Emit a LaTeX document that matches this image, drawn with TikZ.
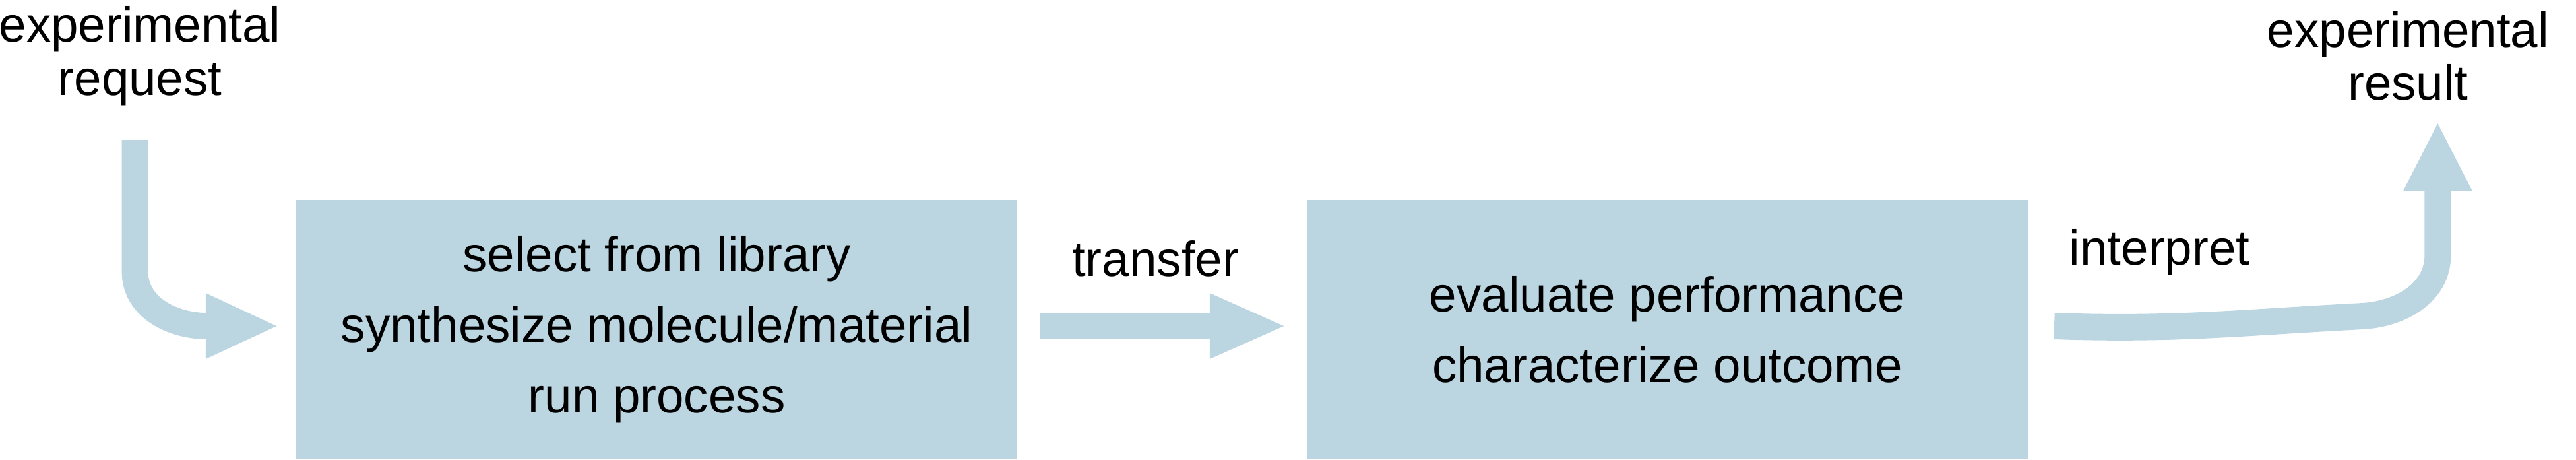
\documentclass[tikz,border=0pt]{standalone}
\usepackage{fontspec}
\setmainfont{Liberation Sans}
\definecolor{flow}{HTML}{BBD5E1}
\begin{document}
\begin{tikzpicture}[x=0.01cm,y=-0.01cm,
    stage/.style={fill=flow,minimum width=4.38cm,minimum height=1.57cm,align=center,font=\fontsize{8.5}{12.2}\selectfont},
    lbl/.style={align=center,font=\fontsize{8.5}{9.2}\selectfont},
    shaft/.style={draw=flow,line width=1.6mm}]
    \useasboundingbox (0,0) rectangle (1565,279);
    % stages
    \node[stage] (select) at (399,200) {select from library\\synthesize molecule/material\\run process};
    \node[stage] (evaluate) at (1013,200) {evaluate performance\\characterize outcome};
    % labels
    \node[lbl] (request) at (85,34) {experimental\\request};
    \node[lbl] (result) at (1463,34) {experimental\\result};
    \node[lbl] (transfer) at (702,157) {transfer};
    \node[lbl] (interpret) at (1312,153) {interpret};
    % arrows
    \coordinate (inA) at (82,85);
    \coordinate (inB) at (126,198);
    \coordinate (outA) at (1248,198);
    \coordinate (outB) at (1481,115);
    \draw[shaft] (inA) -- (82,165) to[out=-90,in=180] (inB);
    \fill[flow] (125,178) -- (168,198) -- (125,218) -- cycle;
    \draw[shaft] (632,198) -- (736,198);
    \fill[flow] (735,178) -- (780,198) -- (735,218) -- cycle;
    \draw[shaft] (outA) to[out=-2,in=183] (1435,192) to[out=3,in=-90] (1481,155) -- (outB);
    \fill[flow] (1460,116) -- (1481,75) -- (1502,116) -- cycle;
\end{tikzpicture}
\end{document}
